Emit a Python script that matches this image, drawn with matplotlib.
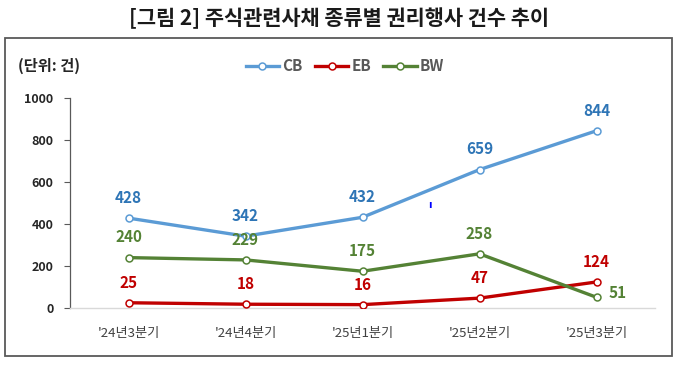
import matplotlib
matplotlib.use("Agg")
import matplotlib.pyplot as plt
from matplotlib.patches import Rectangle

plt.rcParams['font.family'] = ['Noto Sans CJK KR', 'DejaVu Sans']

categories = ["'24년3분기", "'24년4분기", "'25년1분기", "'25년2분기", "'25년3분기"]
cb = [428, 342, 432, 659, 844]
eb = [25, 18, 16, 47, 124]
bw = [240, 229, 175, 258, 51]
yticks = [0, 200, 400, 600, 800, 1000]

title = "[그림 2] 주식관련사채 종류별 권리행사 건수 추이"
unit = "(단위: 건)"

fig = plt.figure(figsize=(6.8, 3.67), dpi=100)
W, H = 680, 367

# outer box
fig.patches.append(Rectangle((5 / W, 1 - 356 / H), 667 / W, 318 / H,
                             transform=fig.transFigure, fill=False,
                             edgecolor='#595959', linewidth=1.3))

fig.text(339 / W, 1 - 18 / H, title, ha='center', va='center',
         fontsize=15, fontweight='bold', color='#1a1a1a')
fig.text(18 / W, 1 - 66 / H, unit, ha='left', va='center',
         fontsize=11, fontweight='bold', color='#262626')

ax = fig.add_axes([70 / W, 1 - 308 / H, 585 / W, 210 / H])
x = list(range(len(categories)))

series = [
    ("CB", cb, '#5B9BD5', '#2E75B6'),
    ("EB", eb, '#C00000', '#C00000'),
    ("BW", bw, '#548235', '#548235'),
]
for name, vals, lc, tc in series:
    ax.plot(x, vals, color=lc, linewidth=2.4, marker='o', markersize=5,
            markerfacecolor='white', markeredgecolor=lc, markeredgewidth=1.1,
            label=name, zorder=3)
    for i, v in enumerate(vals):
        if name == "BW" and i == len(vals) - 1:
            ax.annotate(str(v), (i, v), xytext=(15, 3), textcoords='offset points',
                        ha='center', va='center', fontsize=11, fontweight='bold', color=tc)
        else:
            ax.annotate(str(v), (i, v), xytext=(0, 14.5), textcoords='offset points',
                        ha='center', va='center', fontsize=11, fontweight='bold', color=tc)

ax.set_xlim(-0.5, len(categories) - 0.5)
ax.set_ylim(0, 1000)
ax.set_yticks(yticks)
ax.set_yticklabels([str(t) for t in yticks], fontsize=9, fontweight='bold', color='#262626')
ax.set_xticks(x)
ax.set_xticklabels(categories, fontsize=9.5, color='#404040')
ax.tick_params(axis='x', length=0, pad=14)
ax.tick_params(axis='y', length=4, width=0.8, color='#595959', pad=8)
for s in ['top', 'right']:
    ax.spines[s].set_visible(False)
ax.spines['left'].set_color('#595959')
ax.spines['left'].set_linewidth(0.9)
ax.spines['bottom'].set_color('#D9D9D9')
ax.spines['bottom'].set_linewidth(1.0)

# small stray blue mark
fig.text(430 / W, 1 - 205 / H, "ı", ha='center', va='center', fontsize=7,
         color='#0000FF', fontweight='bold')

leg = fig.legend(loc='center', bbox_to_anchor=(345 / W, 1 - 66 / H), ncol=3,
                 frameon=False, fontsize=11, handlelength=2.2, handletextpad=0.2,
                 columnspacing=0.8)
for t in leg.get_texts():
    t.set_color('#595959')
    t.set_fontweight('bold')

fig.savefig("out.png", dpi=100)
